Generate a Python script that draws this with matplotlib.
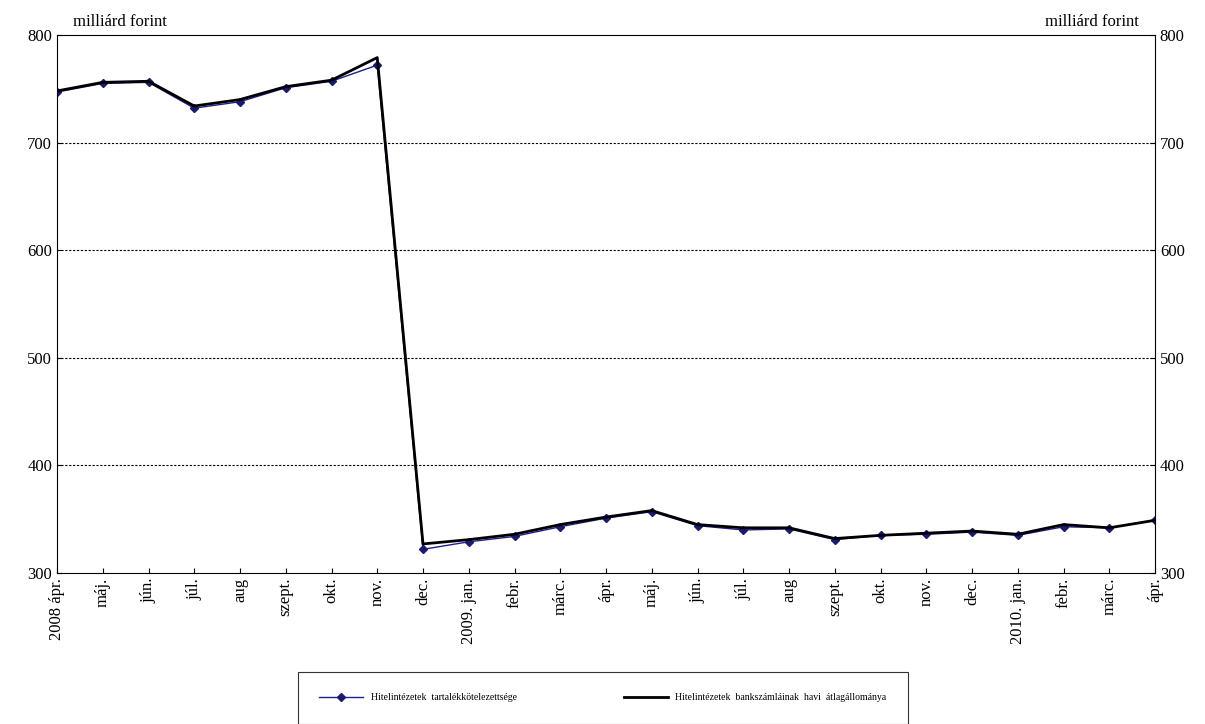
import matplotlib
matplotlib.use("Agg")
import matplotlib.pyplot as plt

plt.rcParams["font.family"] = ["Liberation Serif", "DejaVu Serif"]

months = ["2008 ápr.", "máj.", "jún.", "júl.", "aug", "szept.", "okt.", "nov.", "dec.",
          "2009. jan.", "febr.", "márc.", "ápr.", "máj.", "jún.", "júl.", "aug", "szept.",
          "okt.", "nov.", "dec.", "2010. jan.", "febr.", "márc.", "ápr."]
reserve = [747, 755, 756, 732, 738, 751, 757, 772, 322, 329, 334, 343, 351, 357, 344,
           340, 341, 331, 335, 336, 338, 335, 343, 342, 349]
accounts = [748, 756, 757, 734, 740, 752, 758, 779, 327, 331, 336, 345, 352, 358, 345,
            342, 342, 332, 335, 337, 339, 336, 345, 342, 349]

fig = plt.figure(figsize=(12.05, 7.24), dpi=100)
ax = fig.add_axes([57 / 1205, 1 - 573 / 724, 1098 / 1205, 538 / 724])
x = list(range(len(months)))
ax.plot(x, reserve, color="#1f1f8f", lw=1, marker="D", ms=4.5, mfc="#1a1a6e", mec="#1a1a6e",
        label="Hitelintézetek  tartalékkötelezettsége")
ax.plot(x, accounts, color="black", lw=2, label="Hitelintézetek  bankszámláinak  havi  átlagállománya")
ax.set_xlim(0, len(months) - 1)
ax.set_ylim(300, 800)
ax.set_yticks(range(300, 801, 100))
for y in range(400, 800, 100):
    ax.axhline(y, color="black", lw=0.8, ls=(0, (2, 1.5)))
ax.set_xticks(x)
ax.set_xticklabels(months, rotation=90, fontsize=12)
ax.tick_params(axis="y", labelsize=12, right=True, labelright=True, direction="in")
ax.tick_params(axis="x", direction="in")
ax.text(0.015, 1.01, "milliárd forint", transform=ax.transAxes, fontsize=12, va="bottom")
ax.text(0.985, 1.01, "milliárd forint", transform=ax.transAxes, fontsize=12, va="bottom", ha="right")
leg = fig.legend(loc="center", bbox_to_anchor=(603 / 1205, 1 - 698 / 724), ncol=2, fontsize=7,
                 frameon=True, fancybox=False, edgecolor="black", borderpad=2.2, columnspacing=11,
                 handlelength=4.5)
leg.get_frame().set_linewidth(0.8)
fig.savefig("out.png", dpi=100)
